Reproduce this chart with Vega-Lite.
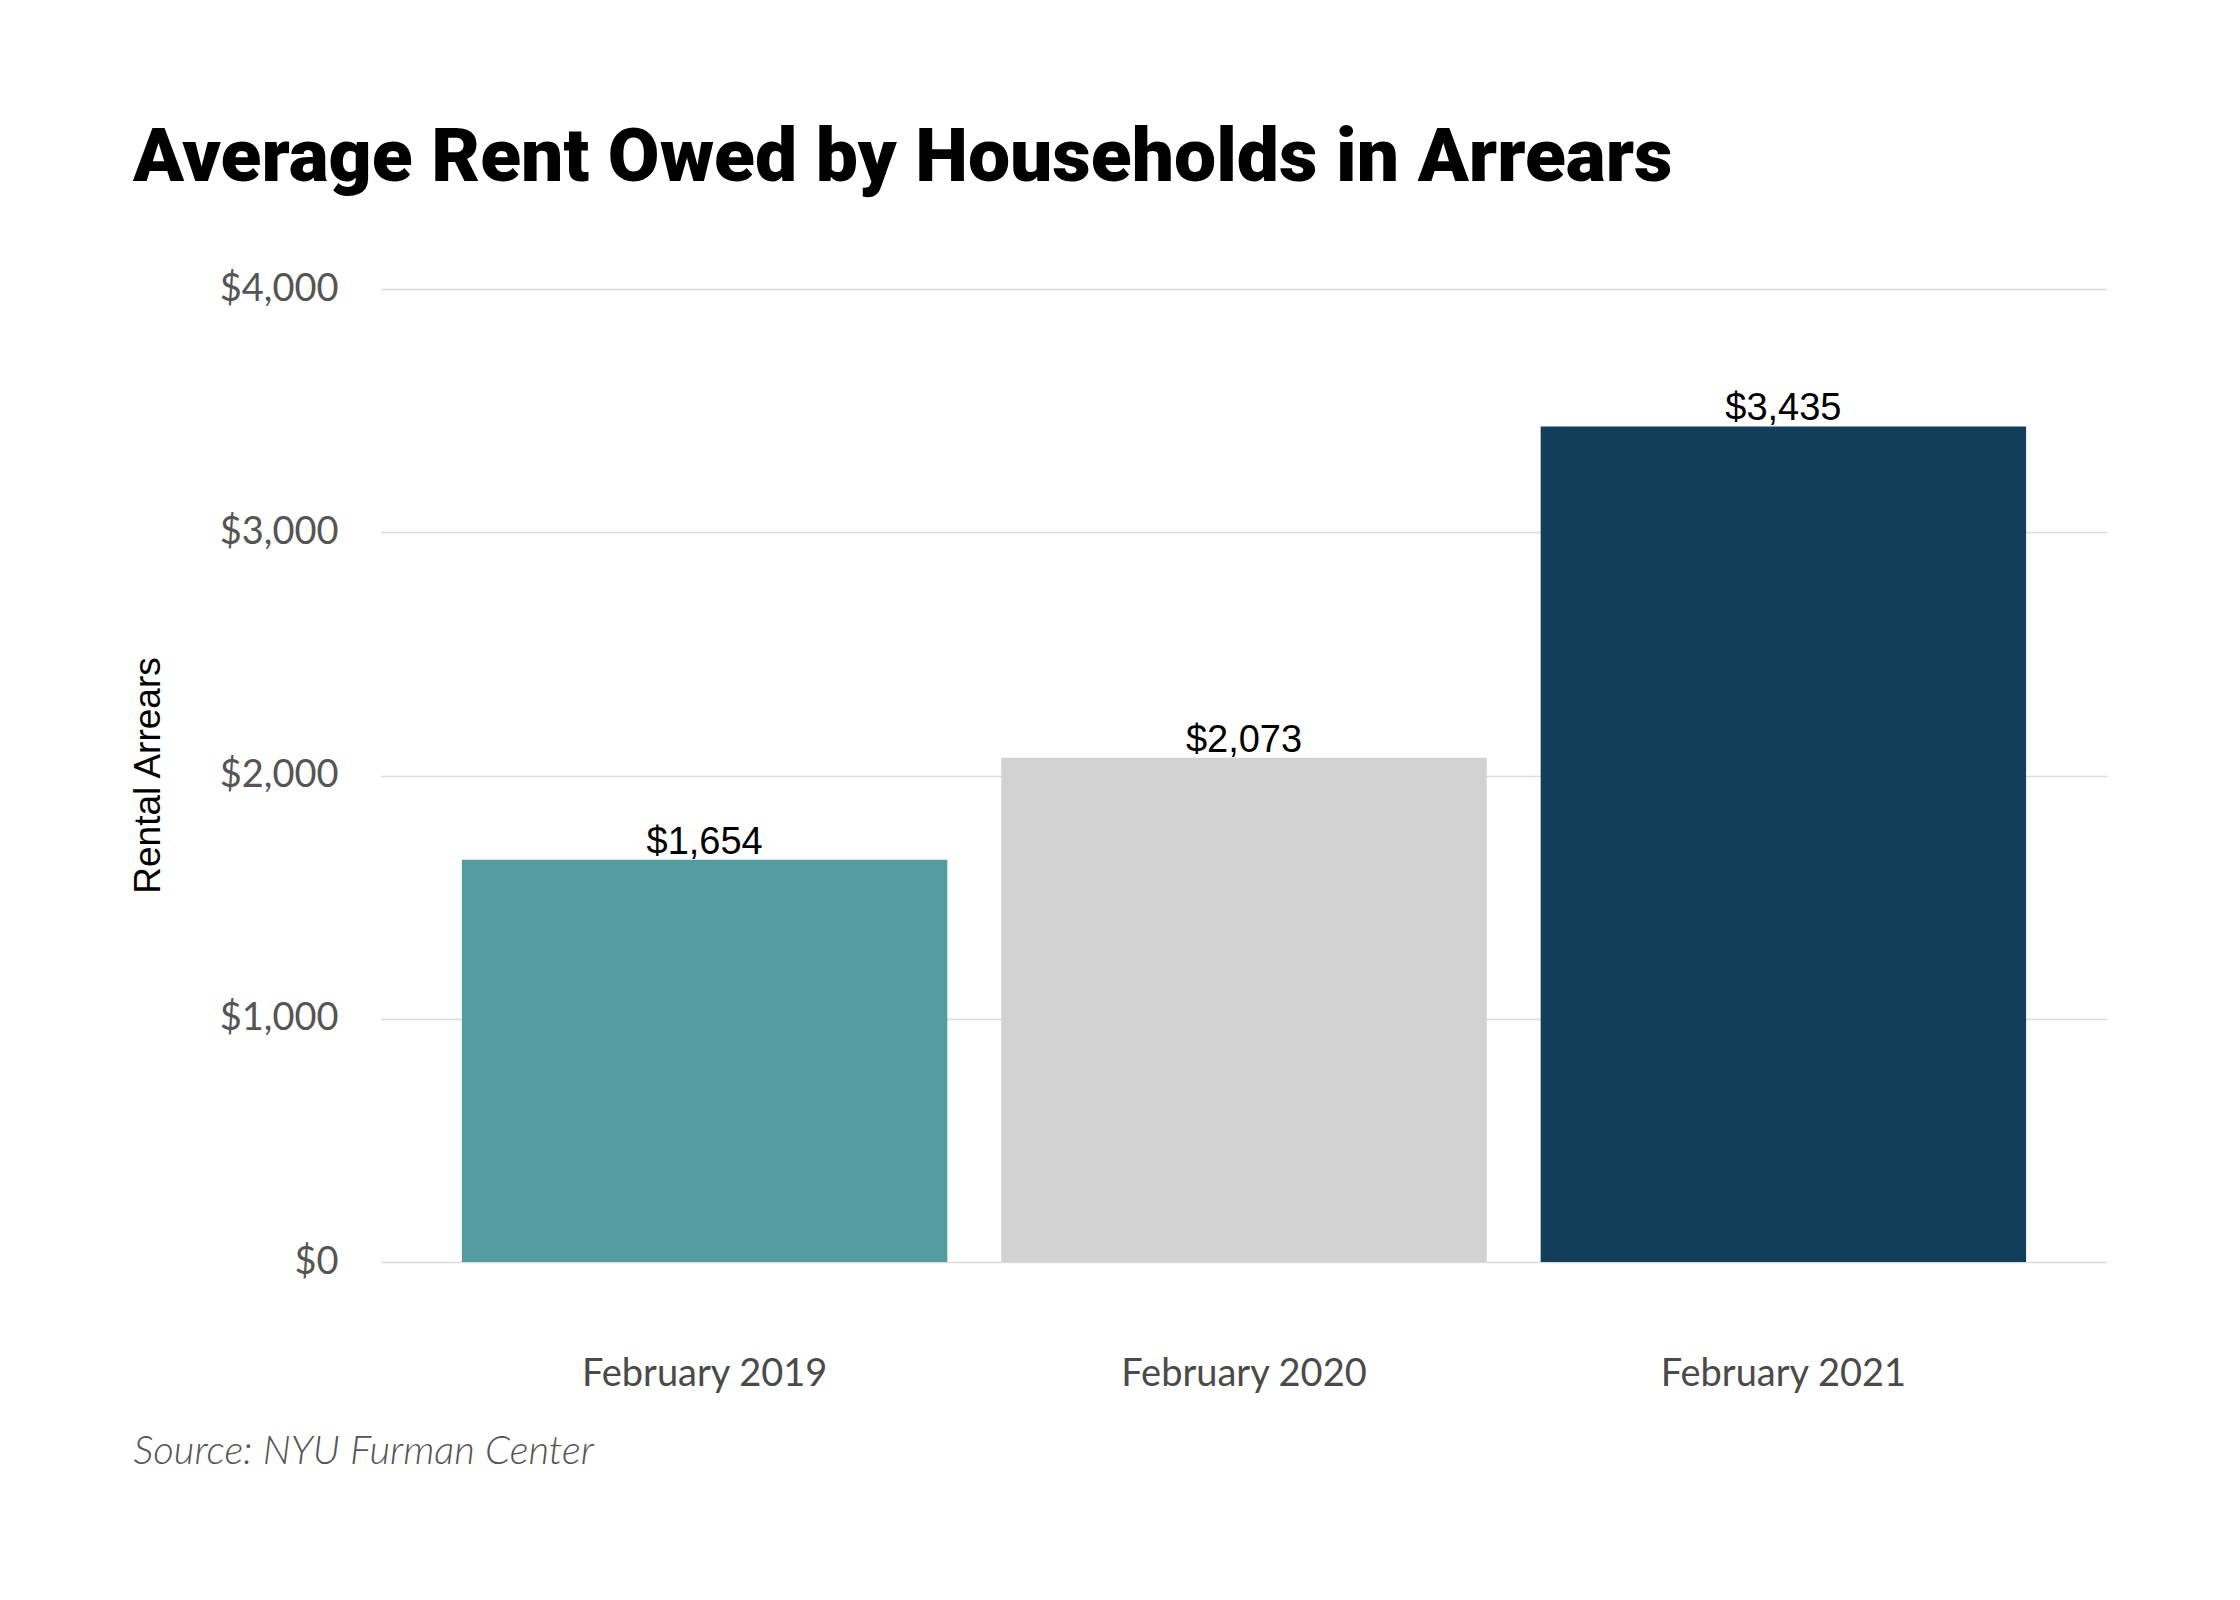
{
  "$schema": "https://vega.github.io/schema/vega-lite/v6.json",
  "width": 1726,
  "height": 973,
  "autosize": {"type": "none"},
  "padding": {"left": 381, "top": 289, "right": 133, "bottom": 338},
  "background": "white",
  "config": {"view": {"stroke": null}},
  "title": {
    "text": "Average Rent Owed by Households in Arrears",
    "anchor": "start",
    "frame": "group",
    "dx": -248,
    "offset": 14,
    "baseline": "alphabetic",
    "font": "Roboto",
    "fontSize": 75,
    "fontWeight": 900,
    "color": "black"
  },
  "data": {
    "values": [
      {"period": "February 2019", "arrears": 1654},
      {"period": "February 2020", "arrears": 2073},
      {"period": "February 2021", "arrears": 3435}
    ]
  },
  "encoding": {
    "x": {
      "field": "period",
      "type": "nominal",
      "sort": null,
      "scale": {"paddingInner": 0.1, "paddingOuter": 0.15},
      "axis": {
        "title": "Source: NYU Furman Center",
        "titleX": -248,
        "titleY": 201,
        "titleAlign": "left",
        "titleAnchor": "start",
        "titleBaseline": "alphabetic",
        "titleFont": "Lato",
        "titleFontSize": 40,
        "titleFontStyle": "italic",
        "titleFontWeight": 300,
        "titleColor": "#555555",
        "labelAngle": 0,
        "labelFont": "Lato",
        "labelFontSize": 38,
        "labelColor": "#4a4a4a",
        "labelPadding": 93,
        "labelLimit": 0,
        "domain": false,
        "ticks": false,
        "grid": false
      }
    },
    "y": {
      "field": "arrears",
      "type": "quantitative",
      "scale": {"domain": [0, 4000], "nice": false},
      "axis": {
        "title": "Rental Arrears",
        "titleFont": "Liberation Sans",
        "titleFontSize": 37,
        "titleFontWeight": "normal",
        "titleColor": "black",
        "titleX": -222,
        "titleY": 486,
        "titleAngle": -90,
        "titleAlign": "center",
        "titleBaseline": "alphabetic",
        "values": [0, 1000, 2000, 3000, 4000],
        "format": "$,.0f",
        "labelFont": "Lato",
        "labelFontSize": 38,
        "labelColor": "#555555",
        "labelPadding": 43,
        "domain": false,
        "ticks": false,
        "grid": true,
        "gridColor": "#dcdcdc",
        "gridWidth": 1.5
      }
    }
  },
  "layer": [
    {
      "mark": {"type": "bar"},
      "encoding": {
        "color": {
          "field": "period",
          "type": "nominal",
          "legend": null,
          "scale": {
            "domain": ["February 2019", "February 2020", "February 2021"],
            "range": ["#559c9e", "#d2d2d2", "#143f5a"]
          }
        }
      }
    },
    {
      "mark": {
        "type": "text",
        "baseline": "alphabetic",
        "dy": -6,
        "font": "Liberation Sans",
        "fontSize": 38,
        "color": "black"
      },
      "encoding": {
        "text": {"field": "arrears", "type": "quantitative", "format": "$,.0f"}
      }
    }
  ]
}
